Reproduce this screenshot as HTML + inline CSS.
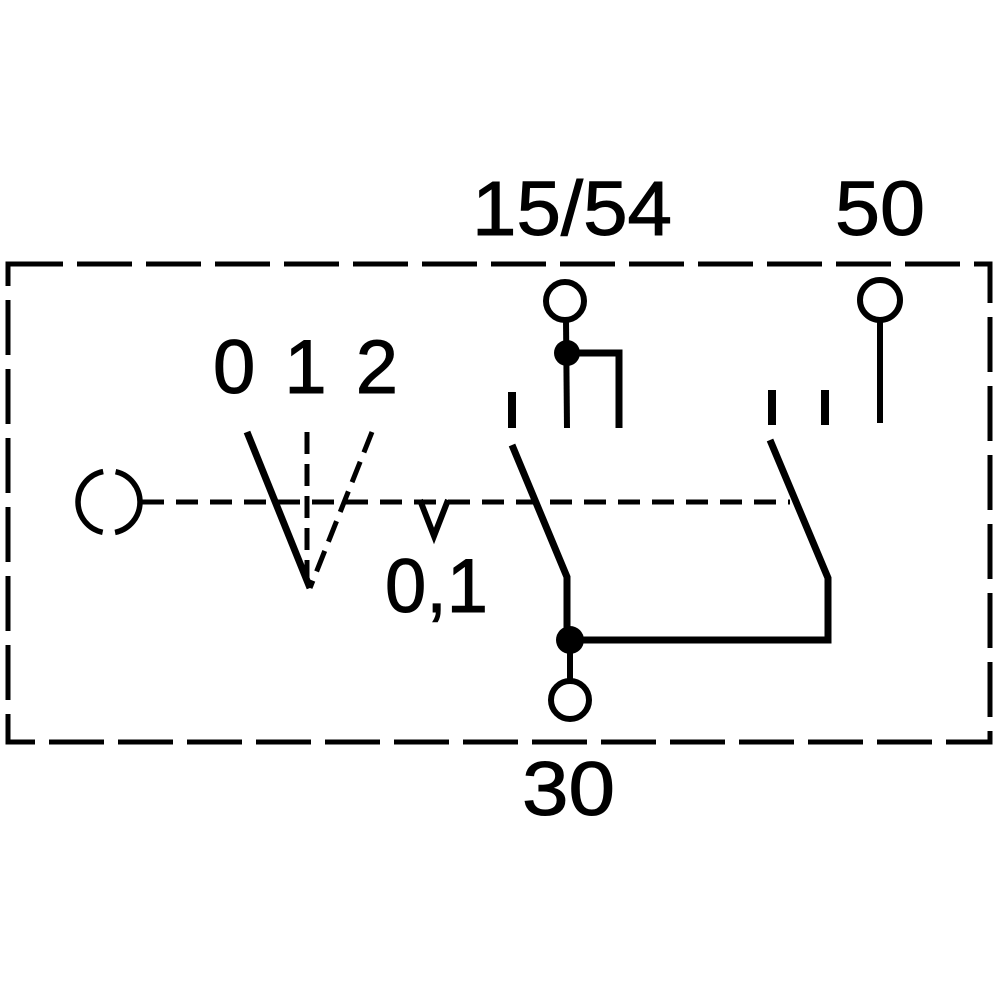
<!DOCTYPE html>
<html><head><style>html,body{margin:0;padding:0;background:#fff}</style></head>
<body>
<svg width="1000" height="1000" viewBox="0 0 1000 1000" xmlns="http://www.w3.org/2000/svg">
<g fill="none" stroke="#000" stroke-width="5.5">
  <rect x="8" y="264" width="982" height="478" stroke-width="5" stroke-dasharray="55,14"/>
  <circle cx="109" cy="502" r="31" stroke-dasharray="85,12.5" stroke-dashoffset="42.5"/>
  <line x1="142" y1="502" x2="790" y2="502" stroke-dasharray="22,12" stroke-width="5"/>
  <line x1="247" y1="432" x2="310" y2="588" stroke-width="7"/>
  <line x1="372" y1="432" x2="310" y2="588" stroke-dasharray="22,10" stroke-width="5"/>
  <line x1="307" y1="432" x2="307" y2="580" stroke-dasharray="22,10" stroke-width="5"/>
  <polyline points="420,500 434,536 448,500" stroke-width="6"/>
  <circle cx="565" cy="301" r="19" stroke-width="6"/>
  <line x1="566" y1="320" x2="567" y2="428" stroke-width="6"/>
  <polyline points="567,353 619,353 619,428" stroke-width="7"/>
  <line x1="512" y1="392" x2="512" y2="428" stroke-width="8"/>
  <polyline points="512,445 567,577 567,640 828,640 828,578 770,440" stroke-width="7"/>
  <line x1="570" y1="640" x2="570" y2="682" stroke-width="6"/>
  <circle cx="570" cy="700" r="19" stroke-width="6"/>
  <line x1="772" y1="390" x2="772" y2="425" stroke-width="8"/>
  <line x1="825" y1="390" x2="825" y2="425" stroke-width="8"/>
  <circle cx="880" cy="300" r="20" stroke-width="6"/>
  <line x1="880" y1="320" x2="880" y2="423" stroke-width="6"/>
</g>
<circle cx="567" cy="353" r="13"/>
<circle cx="570" cy="640" r="14"/>
<g font-family="Liberation Sans, sans-serif" font-size="77" fill="#000" stroke="#000" stroke-width="1">
  <text x="472" y="235" textLength="200" lengthAdjust="spacingAndGlyphs">15/54</text>
  <text x="835" y="235" textLength="90" lengthAdjust="spacingAndGlyphs">50</text>
  <text x="213" y="393" font-size="76" textLength="185" lengthAdjust="spacing" xml:space="preserve">0 1 2</text>
  <text x="385" y="612" font-size="76" textLength="103" lengthAdjust="spacingAndGlyphs">0,1</text>
  <text x="522" y="815" font-size="76" textLength="93" lengthAdjust="spacingAndGlyphs">30</text>
</g>
</svg>
</body></html>
